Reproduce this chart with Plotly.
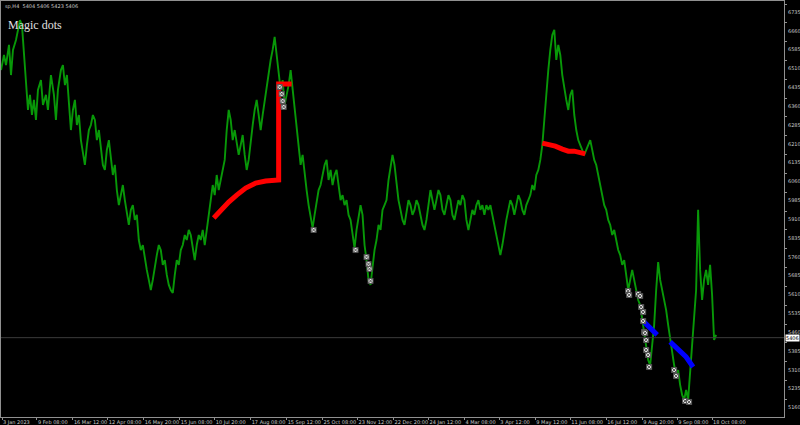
import plotly.graph_objects as go

# ---- data (bar index, price) ----
bar_idx = [0,3,5,8,10,12,15,17,19,21,23,25,27,29,31,33,35,37,40,42,45,47,50,53,55,57,60,62,64,66,68,70,72,74,76,78,80,82,84,86,88,90,92,94,96,98,100,102,104,106,108,110,112,114,116,118,120,122,124,126,128,130,132,134,136,138,140,142,144,146,148,150,152,154,156,158,160,162,164,166,168,170,172,174,176,178,180,182,184,186,188,190,192,194,196,198,200,202,204,206,208,210,212,214,216,218,220,222,224,226,228,230,232,234,236,238,240,242,244,246,248,250,252,254,256,258,260,262,264,266,268,270,272,274,276,278,280,282,284,286,288,290,292,294,296,298,300,302,304,306,308,310,312,314,316,318,320,322,324,326,328,330,332,334,336,338,340,342,344,346,348,350,352,354,356,358,360,362,364,366,368,370,372,374,376,378,380,382,384,386,388,390,392,394,396,398,400,402,404,406,408,410,412,414,416,418,420,422,424,426,428,430,432,434,436,438,440,442,444,446,448,450,452,454,456,458,460,462,464,466,468,470,472,474,476,478,480,482,484,486,488,490,492,494,496,498,500,502,504,506,508,510,512,514,516,518,520,522,524,526,528,530,532,534,536,538,540,542,544,546,548,550,552,554,556,558,560,562,564,566,568,570,572,574,576,578,580,582,584,586,588,590,592,594,596,598,600,602,604,606,608,610,612,614,616,618,620,622,624,626,628,630,632,634,636,638,640,642,644,646,648,650,652,654,656,658,660,662,664,666,668,670,672,674,676,678,680,682,684,686,688,690,692,694,696,698,700,702,704,706,708,710,712,714,716]
price = [6472,6532,6492,6572,6452,6552,6592,6632,6671,6651,6532,6432,6313,6373,6293,6353,6273,6393,6432,6333,6373,6313,6452,6373,6273,6393,6472,6492,6412,6452,6333,6233,6313,6353,6253,6293,6193,6134,6094,6173,6233,6253,6293,6273,6193,6233,6154,6094,6074,6154,6193,6114,6054,6094,5994,5934,5974,6014,5954,5895,5855,5915,5934,5875,5895,5795,5755,5775,5715,5676,5636,5596,5636,5696,5735,5775,5755,5696,5715,5656,5616,5596,5584,5656,5715,5696,5755,5775,5815,5795,5835,5815,5755,5715,5775,5815,5795,5835,5775,5835,5915,5954,6014,5974,6054,5994,6034,6074,6114,6233,6313,6273,6193,6233,6173,6134,6173,6213,6134,6074,6114,6193,6253,6313,6353,6293,6233,6293,6353,6393,6472,6512,6552,6604,6532,6472,6393,6432,6333,6373,6412,6472,6393,6313,6233,6154,6094,6134,6054,5994,5934,5895,5843,5895,5954,5994,6014,6054,6094,6114,6034,6074,6014,6054,6074,6014,5954,5974,5934,5954,5895,5875,5815,5763,5835,5895,5934,5895,5775,5715,5636,5616,5696,5755,5795,5855,5835,5915,5934,5954,6034,6094,6134,6094,6014,5954,5915,5875,5855,5915,5954,5934,5895,5915,5954,5934,5895,5855,5835,5875,5934,5994,5954,5915,5954,5994,5974,5915,5895,5934,5974,5954,5895,5875,5915,5954,5934,5974,5954,5875,5835,5875,5915,5895,5934,5954,5915,5934,5895,5934,5915,5934,5895,5855,5815,5775,5735,5775,5835,5875,5915,5954,5934,5895,5934,5974,5954,5915,5895,5934,5954,5974,6014,5994,6054,6074,6114,6173,6273,6393,6472,6552,6612,6632,6512,6572,6532,6452,6393,6353,6313,6373,6393,6293,6233,6193,6173,6154,6134,6154,6173,6193,6154,6114,6094,6054,6014,5974,5934,5915,5875,5855,5815,5835,5795,5755,5735,5696,5715,5656,5596,5636,5676,5636,5596,5556,5536,5477,5437,5377,5317,5297,5377,5457,5596,5707,5636,5596,5556,5516,5457,5397,5337,5297,5257,5277,5218,5178,5158,5198,5158,5277,5397,5516,5596,5915,5676,5556,5636,5676,5616,5696,5576,5397,5417]

red1_idx = [213,220,228,236,245,255,265,278,278,291]
red1_val = [5883,5915,5946,5974,6002,6022,6030,6034,6416,6416]
red2_idx = [542,548,555,562,568,574,580,585]
red2_val = [6181,6177,6169,6157,6149,6149,6141,6138]
blue1_idx = [643,657]
blue1_val = [5472,5417]
blue2_idx = [670,678,686,693]
blue2_val = [5389,5357,5329,5289]

dot_idx = [279,281,282,283,313,355,366,368,369,370,628,629,638,640,641,643,643,644,645,646,646,648,649,674,676,685,689]
dot_val = [6404,6377,6349,6325,5835,5755,5727,5699,5680,5632,5592,5576,5580,5572,5528,5508,5472,5429,5425,5397,5357,5337,5289,5277,5253,5154,5150]

last_price = 5406
y_ticks = [6735,6660,6585,6510,6435,6360,6285,6210,6135,6060,5985,5910,5835,5760,5685,5610,5535,5460,5385,5310,5235,5160]
x_tick_idx = [1,36,72,107,143,179,214,250,286,322,357,393,428,464,499,535,570,606,642,677,712]
x_tick_text = ["3 Jan 2023","9 Feb 08:00","16 Mar 12:00","12 Apr 08:00","16 May 20:00","15 Jun 08:00",
               "10 Jul 20:00","17 Aug 08:00","15 Sep 12:00","25 Oct 08:00","23 Nov 12:00","22 Dec 20:00",
               "24 Jan 12:00","4 Mar 08:00","3 Apr 12:00","9 May 12:00","11 Jun 08:00","16 Jul 12:00",
               "9 Aug 20:00","9 Sep 08:00","18 Oct 08:00"]

fig = go.Figure()
fig.add_trace(go.Scatter(x=bar_idx, y=price, mode="lines",
                         line=dict(color="#089808", width=1.9), hoverinfo="skip"))
for xs, ys, col in [(red1_idx, red1_val, "#ff0000"), (red2_idx, red2_val, "#ff0000"),
                    (blue1_idx, blue1_val, "#0000ff"), (blue2_idx, blue2_val, "#0000ff")]:
    fig.add_trace(go.Scatter(x=xs, y=ys, mode="lines",
                             line=dict(color=col, width=5), hoverinfo="skip"))
fig.add_trace(go.Scatter(x=dot_idx, y=dot_val, mode="markers", hoverinfo="skip",
                         marker=dict(symbol="square-x", size=5, color="#e8e8e8",
                                     line=dict(color="#505050", width=1))))

fig.add_hline(y=last_price, line=dict(color="#3c3c3c", width=1))

fig.add_annotation(x=5, y=6651, xref="x", yref="y", text="Magic dots", showarrow=False,
                   xanchor="left", yanchor="middle",
                   font=dict(family="Liberation Serif", size=12, color="#e0e0e0"))
fig.add_annotation(x=0.003, y=1.0, xref="paper", yref="paper", text="sp,H4  5404 5406 5423 5406",
                   showarrow=False, xanchor="left", yanchor="top",
                   font=dict(family="DejaVu Sans", size=5, color="#c8c8c8"))
fig.add_annotation(x=1.0, y=last_price, xref="paper", yref="y", text="5406", showarrow=False,
                   xanchor="left", yanchor="middle", xshift=1, bgcolor="#ffffff",
                   borderpad=0, font=dict(family="DejaVu Sans", size=5, color="#000000"))

fig.update_layout(
    width=800, height=425, showlegend=False,
    paper_bgcolor="#000000", plot_bgcolor="#000000",
    margin=dict(l=1, r=16, t=1, b=8, pad=0),
    xaxis=dict(range=[0, 784], tickvals=x_tick_idx, ticktext=x_tick_text, tickangle=0,
               ticklabelposition="outside right", ticks="outside", ticklen=2,
               tickcolor="#909090", showgrid=False, zeroline=False,
               showline=True, linecolor="#909090", mirror=True, automargin=False,
               tickfont=dict(family="DejaVu Sans", size=5, color="#c8c8c8")),
    yaxis=dict(range=[5090, 6747], side="right", tickvals=y_ticks,
               ticks="outside", ticklen=2, tickcolor="#909090", ticklabelshift=8,
               ticklabeloverflow="allow",
               showgrid=False, zeroline=False, showline=True, linecolor="#909090", mirror=True,
               automargin=False,
               tickfont=dict(family="DejaVu Sans", size=5, color="#c8c8c8")),
)

fig.write_html("out.html", config={"displayModeBar": False},
               post_script="document.body.style.margin='0';document.body.style.overflow='hidden';")
